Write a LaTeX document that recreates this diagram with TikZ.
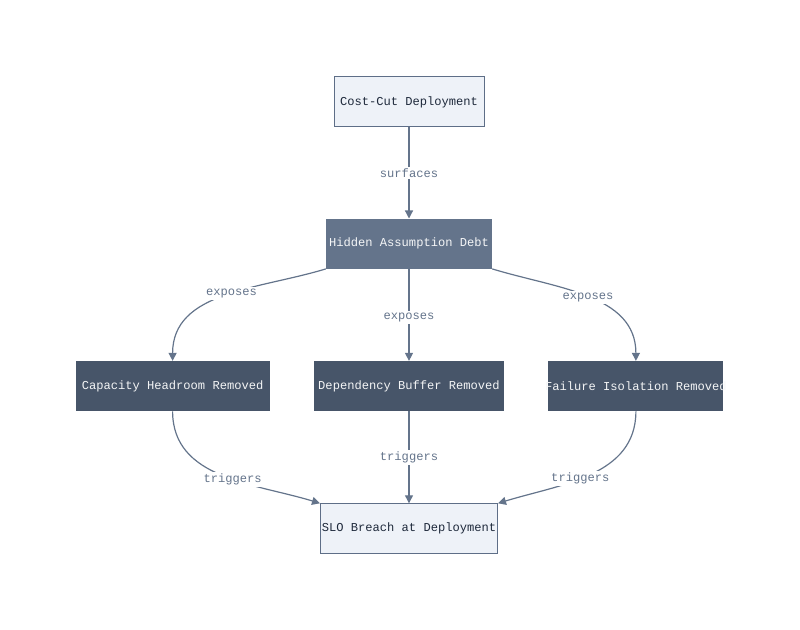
\documentclass[tikz,border=0pt]{standalone}
\usepackage{fontspec}
\setmonofont{Liberation Mono}
\usepackage{xcolor}
\usetikzlibrary{arrows.meta,positioning}
\definecolor{lightfill}{HTML}{EEF2F8}
\definecolor{lightedge}{HTML}{5E6E87}
\definecolor{midfill}{HTML}{64748B}
\definecolor{darkfill}{HTML}{475569}
\definecolor{linkgray}{HTML}{64748B}
\definecolor{inktext}{HTML}{1E293B}
\newcommand{\tightbox}[1]{\makebox[0pt]{#1}}

\begin{document}
\begin{tikzpicture}[
  node distance=91pt and 44pt,
  box/.style={minimum height=50pt, inner sep=0pt,
    font=\ttfamily\fontsize{12.1}{14}\selectfont},
  lightbox/.style={box, draw=lightedge, line width=1pt, fill=lightfill, text=inktext},
  midbox/.style={box, fill=midfill, text=white!94!midfill},
  darkbox/.style={box, fill=darkfill, text=white!94!darkfill},
  arrow/.style={-{Triangle[length=8pt,width=8pt]}, line width=1.2pt, draw=linkgray},
  lbl/.style={fill=white, inner sep=2pt, text=linkgray,
    font=\ttfamily\fontsize{12.1}{14}\selectfont}
]
\useasboundingbox (0,0) rectangle (800pt,629pt);

\node[lightbox, minimum width=150pt] (cost) at (409pt,527pt) {Cost-Cut Deployment};
\node[midbox, minimum width=166pt, below=of cost] (debt) {Hidden Assumption Debt};
\node[darkbox, minimum width=190pt, below=92pt of debt] (buffer)
  {Dependency Buffer Removed};
\node[darkbox, minimum width=194pt, left=of buffer] (headroom)
  {Capacity Headroom Removed};
\node[darkbox, minimum width=175pt, right=of buffer] (isolation)
  {\tightbox{Failure Isolation Removed}};
\node[lightbox, minimum width=177pt, below=92pt of buffer] (breach)
  {SLO Breach at Deployment};

\draw[arrow] (cost) -- node[lbl] {surfaces} (debt);
\draw[arrow] (debt.south west) to[out=197, in=90] node[lbl, pos=0.46] {exposes} (headroom.north);
\draw[arrow] (debt) -- node[lbl, pos=0.53] {exposes} (buffer);
\draw[arrow] (debt.south east) to[out=-17, in=90] node[lbl] {exposes} (isolation.north);
\draw[arrow] (headroom.south) to[out=270, in=163] node[lbl, pos=0.56] {triggers} (breach.north west);
\draw[arrow] (buffer) -- node[lbl] {triggers} (breach);
\draw[arrow] (isolation.south) to[out=270, in=17] node[lbl, pos=0.56] {triggers} (breach.north east);

\end{tikzpicture}
\end{document}
